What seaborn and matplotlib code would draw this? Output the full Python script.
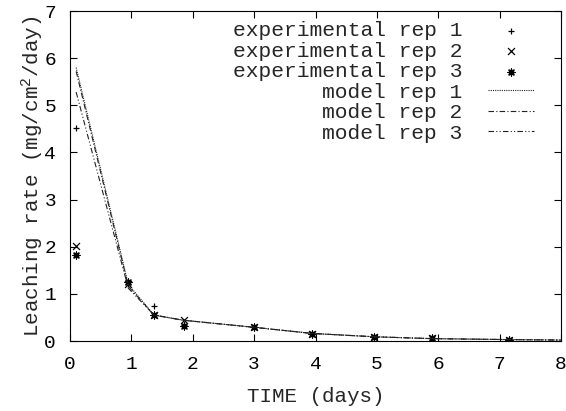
import matplotlib
matplotlib.use("Agg")
import matplotlib.pyplot as plt
import seaborn as sns
import pandas as pd

t_exp = [0.1, 0.95, 1.37, 1.85, 3.0, 3.95, 4.95, 5.9, 7.15]
rep1 = [4.52, 1.2, 0.74, 0.35, 0.29, 0.15, 0.09, 0.06, 0.03]
rep2 = [2.02, 1.2, 0.55, 0.45, 0.29, 0.15, 0.09, 0.06, 0.03]
rep3 = [1.83, 1.25, 0.55, 0.32, 0.29, 0.15, 0.09, 0.06, 0.03]

# model curves
t_mod = [0.1, 0.95, 1.37, 1.85, 3.0, 3.95, 4.95, 5.9, 7.15, 8.0]
model1 = [5.8, 1.2, 0.55, 0.44, 0.29, 0.16, 0.09, 0.05, 0.03, 0.02]
model2 = [5.72, 1.16, 0.55, 0.44, 0.29, 0.16, 0.09, 0.05, 0.03, 0.02]
model3 = [5.28, 1.12, 0.55, 0.44, 0.29, 0.16, 0.09, 0.05, 0.03, 0.02]

sns.set_style("ticks")
plt.rcParams['font.family'] = ['Liberation Mono', 'DejaVu Sans']
plt.rcParams['mathtext.fontset'] = 'custom'
plt.rcParams['mathtext.rm'] = 'Liberation Mono'
plt.rcParams['mathtext.it'] = 'Liberation Mono'

fig = plt.figure(figsize=(5.66, 4.11), dpi=100)
ax = fig.add_axes([70/566, 1 - 341/411, 491/566, 330/411])

exp = pd.DataFrame({"t": t_exp, "rep 1": rep1, "rep 2": rep2, "rep 3": rep3})
mod = pd.DataFrame({"t": t_mod, "rep 1": model1, "rep 2": model2, "rep 3": model3})

markers = ["+", "x", (8, 2, 0)]
for i, r in enumerate(["rep 1", "rep 2", "rep 3"]):
    sns.scatterplot(data=exp, x="t", y=r, ax=ax, marker=markers[i], color="black",
                    s=25, linewidth=0.9, label="experimental " + r)

styles = [(0, (1, 1)), (0, (5, 2, 1, 2)), (0, (5, 2, 1, 2, 1, 2))]
for i, r in enumerate(["rep 1", "rep 2", "rep 3"]):
    sns.lineplot(data=mod, x="t", y=r, ax=ax, color="#222222", linewidth=0.8,
                 linestyle=styles[i], label="model " + r)

ax.set_xlim(0, 8)
ax.set_ylim(0, 7)
ax.set_xticks(range(0, 9))
ax.set_yticks(range(0, 8))
ax.tick_params(direction="in", length=5, width=0.8, labelsize=14, top=True, right=True,
               colors="black")
ax.tick_params(axis="x", pad=11)
ax.tick_params(axis="y", pad=10)
for s in ax.spines.values():
    s.set_linewidth(0.8)
    s.set_color("black")
ax.set_xlabel("TIME (days)", fontsize=15, labelpad=10)
ax.set_ylabel(r"Leaching rate (mg/cm$^{2}$/day)", fontsize=15, labelpad=-1)

leg = ax.legend(loc="upper right", bbox_to_anchor=(0.963, 0.995), frameon=False,
                markerfirst=False, fontsize=15.3, handlelength=2.2,
                labelspacing=0.07, handletextpad=1.2, borderaxespad=0.0)

fig.savefig("out.png", dpi=100)
